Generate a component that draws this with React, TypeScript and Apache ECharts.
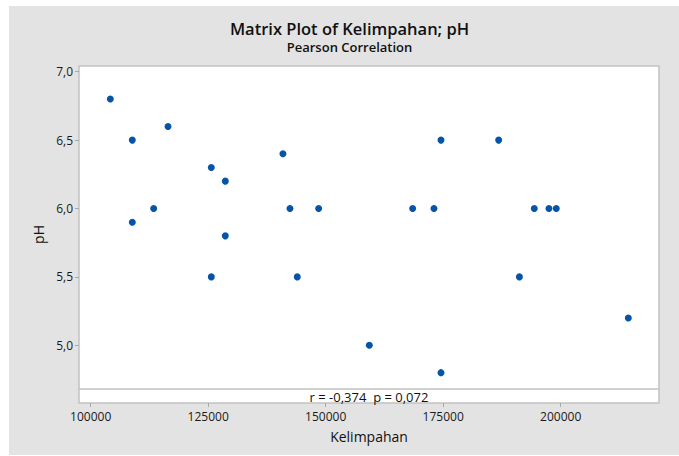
import React, { useEffect, useRef } from "react";
import * as echarts from "echarts";

const kelimpahan: number[] = [
  104170, 116450, 108850, 140900, 125660, 128640, 113400, 142400, 148500, 108850, 128640, 125660,
  143950, 174530, 186800, 168500, 173040, 194380, 197500, 199060, 191210, 214380, 159280, 174530,
];
const pH: number[] = [
  6.8, 6.6, 6.5, 6.4, 6.3, 6.2, 6.0, 6.0, 6.0, 5.9, 5.8, 5.5,
  5.5, 6.5, 6.5, 6.0, 6.0, 6.0, 6.0, 6.0, 5.5, 5.2, 5.0, 4.8,
];
const xTicks: number[] = [100000, 125000, 150000, 175000, 200000];
const yTicks: number[] = [5.0, 5.5, 6.0, 6.5, 7.0];
const titleText = "Matrix Plot of Kelimpahan; pH";
const subtitleText = "Pearson Correlation";
const statsText = "r = -0,374\u00a0\u00a0p = 0,072";
const xName = "Kelimpahan";
const yName = "pH";

const FONT = "'Open Sans', 'Noto Sans', sans-serif";

export default function App() {
  const ref = useRef<HTMLDivElement>(null);
  useEffect(() => {
    if (!ref.current) return;
    const chart = echarts.init(ref.current, null, { renderer: "svg" });
    const data = kelimpahan.map((x, i) => [x, pH[i]]);
    chart.setOption({
      animation: false,
      backgroundColor: "#ffffff",
      textStyle: { fontFamily: FONT },
      graphic: [
        {
          type: "rect",
          z: -10,
          silent: true,
          shape: { x: 9, y: 6, width: 670, height: 449 },
          style: { fill: "#e3e3e3" },
        },
        {
          type: "text",
          x: 349.5,
          y: 28,
          style: {
            text: titleText,
            fill: "#111",
            font: `600 16.5px ${FONT}`,
            align: "center",
            verticalAlign: "middle",
          },
        },
        {
          type: "text",
          x: 349.5,
          y: 47,
          style: {
            text: subtitleText,
            fill: "#111",
            font: `600 13px ${FONT}`,
            align: "center",
            verticalAlign: "middle",
          },
        },
      ],
      grid: {
        left: 79,
        right: 20,
        top: 66,
        bottom: 53,
        show: true,
        backgroundColor: "#ffffff",
        borderColor: "#c2c2c2",
        borderWidth: 1.5,
        containLabel: false,
      },
      xAxis: {
        type: "value",
        min: 97511,
        max: 220915,
        name: xName,
        nameLocation: "middle",
        nameGap: 26,
        nameTextStyle: { fontSize: 14, color: "#111", fontFamily: FONT },
        axisLine: { show: false },
        splitLine: { show: false },
        axisTick: {
          show: true,
          length: 4,
          customValues: xTicks,
          lineStyle: { color: "#a8a8a8", width: 1 },
        },
        axisLabel: {
          customValues: xTicks,
          formatter: (v: number) => String(v),
          color: "#1a1a1a",
          fontSize: 12,
          margin: 7,
          fontFamily: FONT,
        },
      },
      yAxis: {
        type: "value",
        min: 4.5782,
        max: 7.0417,
        name: yName,
        nameLocation: "middle",
        nameGap: 33,
        nameRotate: 90,
        nameTextStyle: { fontSize: 14, color: "#111", fontFamily: FONT },
        axisLine: { show: false },
        splitLine: { show: false },
        axisTick: {
          show: true,
          length: 4,
          customValues: yTicks,
          lineStyle: { color: "#a8a8a8", width: 1 },
        },
        axisLabel: {
          customValues: yTicks,
          formatter: (v: number) => v.toFixed(1).replace(".", ","),
          color: "#1a1a1a",
          fontSize: 12,
          margin: 6,
          fontFamily: FONT,
        },
      },
      series: [
        {
          type: "scatter",
          data,
          symbol: "circle",
          symbolSize: 7,
          itemStyle: { color: "#0654a8", opacity: 1 },
          markLine: {
            silent: true,
            symbol: "none",
            lineStyle: { color: "#c2c2c2", width: 1.5, type: "solid" },
            label: {
              show: true,
              position: "insideMiddleBottom",
              formatter: statsText,
              color: "#111",
              fontSize: 13,
              fontFamily: FONT,
              distance: 1,
            },
            data: [{ yAxis: 4.681 }],
          },
        },
      ],
    });
    return () => chart.dispose();
  }, []);
  return (
    <div style={{ position: "fixed", left: 0, top: 0, width: 679, height: 456, background: "#fff" }}>
      <div ref={ref} style={{ width: 679, height: 456 }} />
    </div>
  );
}
